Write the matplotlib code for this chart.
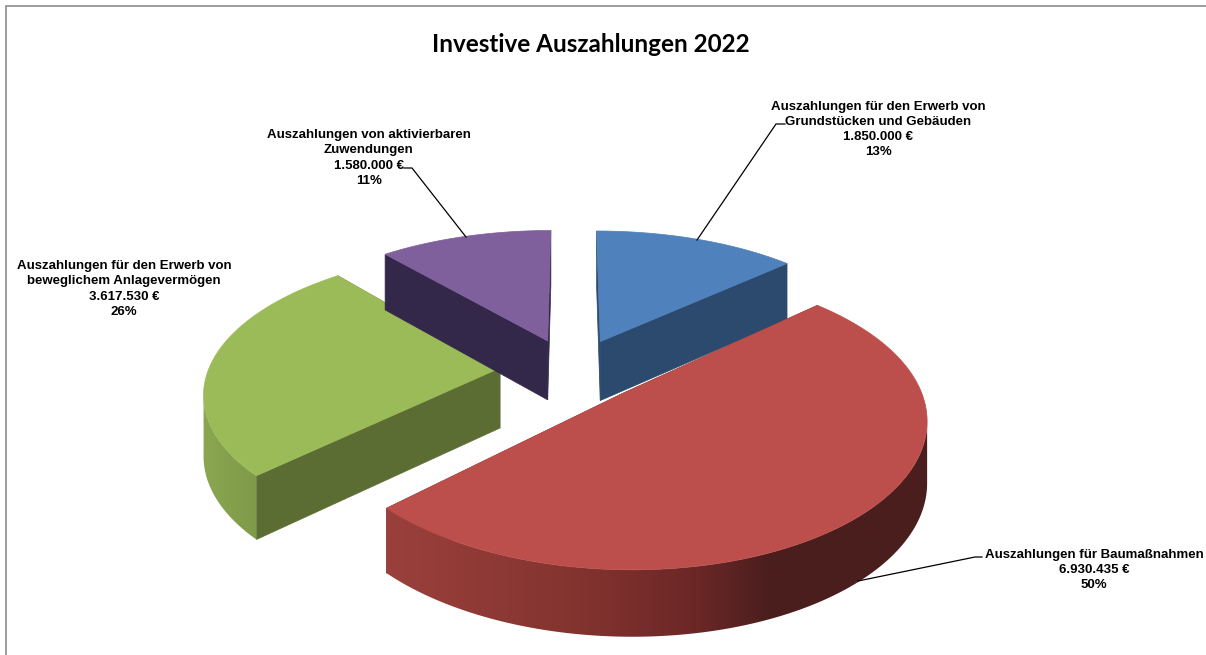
import numpy as np
import matplotlib
matplotlib.use("Agg")
import matplotlib.pyplot as plt
from matplotlib.colors import to_rgb
from matplotlib.patches import Polygon

plt.rcParams['font.family'] = ['Liberation Sans', 'DejaVu Sans']

# Data, clockwise from 12 o'clock
title = "Investive Auszahlungen 2022"
categories = ["Auszahlungen für den Erwerb von\nGrundstücken und Gebäuden",
              "Auszahlungen für Baumaßnahmen",
              "Auszahlungen für den Erwerb von\nbeweglichem Anlagevermögen",
              "Auszahlungen von aktivierbaren\nZuwendungen"]
values = [1850000, 6930435, 3617530, 1580000]

top_colors = ["#4F81BD", "#BC4F4B", "#9BBB59", "#7F609C"]
wall_colors = ["#2C4A6E", "#7A2E2D", "#5C6D33", "#33284A"]
rim_stops = [([0, 1206], ["#2C4A6E", "#2C4A6E"]),
             ([390, 580, 700, 770], ["#9A403C", "#83332F", "#6A2726", "#4B1E1E"]),
             ([205, 258], ["#8AA650", "#7F9A49"]),
             ([0, 1206], ["#33284A", "#33284A"])]

# Projection of the exploded pie onto the pixel canvas
cx, cy = 572, 369.6
rx, ry = 301, 137.8
persp_x, persp_y = 0.155, 0.168
explode_u, explode_v = 0.24, 0.23
radius_u = 0.968
depth = 60


def project(u, v, lower=False):
    x = cx + rx * u / (1 + persp_x * v)
    w = 1 + persp_y * v
    y = cy - ry * v / w
    if lower:
        y = y + depth / np.sqrt(w)
    return x, y


fracs = np.array(values) / sum(values)
edges = np.concatenate([[0], np.cumsum(fracs)]) * 2 * np.pi

fig = plt.figure(figsize=(12.06, 6.55), dpi=100)
ax = fig.add_axes([0, 0, 1, 1])

# Frame of the chart, open to the right and bottom
ax.plot([6, 6, 1206], [655, 6, 6], color="#8C8C8C", lw=1.2, solid_joinstyle="miter")

for i in [3, 0, 2, 1]:
    t0, t1 = edges[i], edges[i + 1]
    tm = (t0 + t1) / 2
    ou, ov = explode_u * np.sin(tm), explode_v * np.cos(tm)
    t = np.linspace(t0, t1, 200)
    u = ou + radius_u * np.sin(t)
    v = ov + np.cos(t)

    xa, ya = project(ou, ov)
    xb, yb = project(ou, ov, lower=True)
    xt, yt = project(u, v)
    xl, yl = project(u, v, lower=True)

    # radial walls
    ax.fill([xa, xt[0], xl[0], xb], [ya, yt[0], yl[0], yb], color=wall_colors[i], lw=0.5, zorder=i + 2)
    ax.fill([xa, xt[-1], xl[-1], xb], [ya, yt[-1], yl[-1], yb], color=wall_colors[i], lw=0.5, zorder=i + 2)

    # outer rim: horizontal gradient clipped to the rim outline
    # only the front part between its x extremes, so the outline does not cross itself
    front = np.where(np.cos(t) < 0.3)[0]
    if len(front) > 1:
        lo, hi = sorted([front[np.argmin(xt[front])], front[np.argmax(xt[front])]])
        rim_x = np.concatenate([xt[lo:hi + 1], xl[lo:hi + 1][::-1]])
        rim_y = np.concatenate([yt[lo:hi + 1], yl[lo:hi + 1][::-1]])
        stops_x, stops_c = rim_stops[i]
        stops_rgb = np.array([to_rgb(c) for c in stops_c])
        grid = np.arange(0, 1207)
        shade = np.stack([np.interp(grid, stops_x, stops_rgb[:, c]) for c in range(3)], axis=-1)[np.newaxis, :, :]
        rim = Polygon(np.column_stack([rim_x, rim_y]), closed=True, transform=ax.transData,
                      facecolor="none", edgecolor="none")
        ax.add_patch(rim)
        img = ax.imshow(shade, extent=(0, 1206, 655, 0), aspect="auto", interpolation="bilinear", zorder=i + 2.1)
        img.set_clip_path(rim)

    # top face
    ax.fill(np.concatenate([[xa], xt]), np.concatenate([[ya], yt]), color=top_colors[i], lw=0.5, zorder=i + 2.2)

ax.set_xlim(0, 1206)
ax.set_ylim(655, 0)
ax.axis("off")

ax.text(591, 45, title, family=["Lato", "DejaVu Sans"], fontweight="bold", fontsize=17.5,
        ha="center", va="center", color="black")

# Data labels: centre of the text block and elbow of the leader line
label_pos = [(878, 129.5), (1094, 570), (124, 289), (369, 158)]
leaders = [[(776, 124), (785, 124)], [(975, 557), (982, 557)], None, [(412, 168), (404, 168)]]
leader_start = [(697, 240), (858, 581), None, (466, 237)]

for i, cat in enumerate(categories):
    euro = f"{values[i]:,}".replace(",", ".")
    label = f"{cat}\n{euro} €\n{round(fracs[i] * 100)}%"
    ax.text(label_pos[i][0], label_pos[i][1], label, fontweight="bold", fontsize=9.55, ha="center", va="center",
            linespacing=1.35, color="black", zorder=20)
    if leaders[i] is not None:
        xs = [leader_start[i][0], leaders[i][0][0], leaders[i][1][0]]
        ys = [leader_start[i][1], leaders[i][0][1], leaders[i][1][1]]
        ax.plot(xs, ys, color="black", lw=0.9, zorder=15)

fig.savefig("out.png", dpi=100, facecolor="white")
